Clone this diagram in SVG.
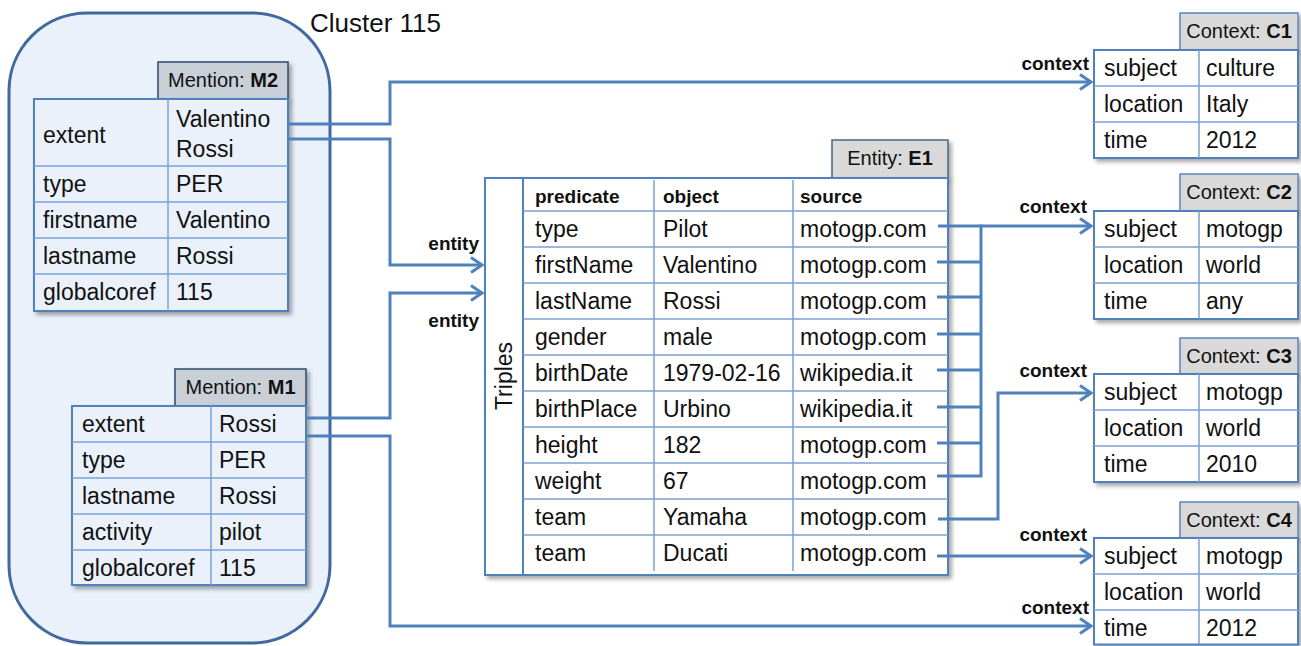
<svg xmlns="http://www.w3.org/2000/svg" width="1301" height="646" viewBox="0 0 1301 646">
<style>
text{font-family:"Liberation Sans",Arial,sans-serif;fill:#111}
.t{font-size:23px}
.h{font-size:20px}
.b{font-weight:bold}
.lbl{font-size:19px;font-weight:bold}
.cl{font-size:26px}
.tbl{stroke:#4F81BD;stroke-width:2}
.ln{stroke:#7BA3D6;stroke-width:1.5;fill:none}
.mfill{fill:#EAF1FA}
.wfill{fill:#FFFFFF}
.mtab{fill:#C9CFD7;stroke:#2F4B6E;stroke-width:1.5}
.etab{fill:#D9D9D9;stroke:#4A6585;stroke-width:1.5}
.ctab{fill:#D9D9D9;stroke:#5B87C0;stroke-width:1.5}
.con{fill:none;stroke:#4F81BD;stroke-width:3}
</style>
<defs>
<filter id="sh" x="-10%" y="-10%" width="130%" height="130%">
<feDropShadow dx="3" dy="3" stdDeviation="2" flood-color="#000" flood-opacity="0.35"/>
</filter>
<marker id="arr" markerUnits="userSpaceOnUse" markerWidth="18" markerHeight="20" refX="13" refY="10" orient="auto" viewBox="0 0 18 20">
<path d="M2,2.5 L13,10 L2,17.5" fill="none" stroke="#4F81BD" stroke-width="3"/>
</marker>
</defs>

<g id="cluster115">
<rect x="9" y="13" width="321" height="630" rx="78" ry="78" fill="#EAF1FA" stroke="#41699E" stroke-width="3"/>
<text class="cl" x="310" y="32">Cluster 115</text>
</g>

<g id="M2">
<rect class="mtab" x="158" y="62" width="130" height="37" filter="url(#sh)"/>
<text class="h" x="223" y="87" text-anchor="middle">Mention: <tspan class="b">M2</tspan></text>
<rect class="mfill tbl" x="34" y="99" width="254" height="212" filter="url(#sh)"/>
<path class="ln" d="M168,99V311M34,166H288M34,202H288M34,238H288M34,274H288"/>
<text class="t" x="43" y="143">extent</text>
<text class="t" x="176" y="127">Valentino</text>
<text class="t" x="176" y="157">Rossi</text>
<text class="t" x="43" y="192">type</text><text class="t" x="176" y="192">PER</text>
<text class="t" x="43" y="228">firstname</text><text class="t" x="176" y="228">Valentino</text>
<text class="t" x="43" y="264">lastname</text><text class="t" x="176" y="264">Rossi</text>
<text class="t" x="43" y="300">globalcoref</text><text class="t" x="176" y="300">115</text>
</g>

<g id="M1">
<rect class="mtab" x="175" y="369" width="131" height="37" filter="url(#sh)"/>
<text class="h" x="240.5" y="394" text-anchor="middle">Mention: <tspan class="b">M1</tspan></text>
<rect class="mfill tbl" x="72" y="406" width="234" height="179" filter="url(#sh)"/>
<path class="ln" d="M211,406V585M72,442H306M72,478H306M72,514H306M72,550H306"/>
<text class="t" x="82" y="432">extent</text><text class="t" x="219" y="432">Rossi</text>
<text class="t" x="82" y="468">type</text><text class="t" x="219" y="468">PER</text>
<text class="t" x="82" y="504">lastname</text><text class="t" x="219" y="504">Rossi</text>
<text class="t" x="82" y="540">activity</text><text class="t" x="219" y="540">pilot</text>
<text class="t" x="82" y="576">globalcoref</text><text class="t" x="219" y="576">115</text>
</g>

<g id="E1">
<rect class="etab" x="832" y="140" width="116" height="38" filter="url(#sh)"/>
<text class="h" x="890" y="165" text-anchor="middle">Entity: <tspan class="b">E1</tspan></text>
<rect class="wfill tbl" x="485" y="178" width="463" height="397" filter="url(#sh)"/>
<path class="tbl" fill="none" d="M523,178V575"/>
<path class="ln" d="M654,180V571M793,180V571M523,211H948M523,247H948M523,283H948M523,319H948M523,355H948M523,391H948M523,427H948M523,463H948M523,499H948M523,535H948"/>
<text class="t" transform="translate(512,376) rotate(-90)" text-anchor="middle">Triples</text>
<text class="lbl" x="535" y="203">predicate</text>
<text class="lbl" x="663" y="203">object</text>
<text class="lbl" x="800" y="203">source</text>
<text class="t" x="535" y="237">type</text><text class="t" x="663" y="237">Pilot</text><text class="t" x="800" y="237">motogp.com</text>
<text class="t" x="535" y="273">firstName</text><text class="t" x="663" y="273">Valentino</text><text class="t" x="800" y="273">motogp.com</text>
<text class="t" x="535" y="309">lastName</text><text class="t" x="663" y="309">Rossi</text><text class="t" x="800" y="309">motogp.com</text>
<text class="t" x="535" y="345">gender</text><text class="t" x="663" y="345">male</text><text class="t" x="800" y="345">motogp.com</text>
<text class="t" x="535" y="381">birthDate</text><text class="t" x="663" y="381">1979-02-16</text><text class="t" x="800" y="381">wikipedia.it</text>
<text class="t" x="535" y="417">birthPlace</text><text class="t" x="663" y="417">Urbino</text><text class="t" x="800" y="417">wikipedia.it</text>
<text class="t" x="535" y="453">height</text><text class="t" x="663" y="453">182</text><text class="t" x="800" y="453">motogp.com</text>
<text class="t" x="535" y="489">weight</text><text class="t" x="663" y="489">67</text><text class="t" x="800" y="489">motogp.com</text>
<text class="t" x="535" y="525">team</text><text class="t" x="663" y="525">Yamaha</text><text class="t" x="800" y="525">motogp.com</text>
<text class="t" x="535" y="561">team</text><text class="t" x="663" y="561">Ducati</text><text class="t" x="800" y="561">motogp.com</text>
</g>

<g id="C1">
<rect class="ctab" x="1180" y="13" width="118" height="37" filter="url(#sh)"/>
<text class="h" x="1239" y="38" text-anchor="middle">Context: <tspan class="b">C1</tspan></text>
<rect class="wfill tbl" x="1094" y="50" width="204" height="108" filter="url(#sh)"/>
<path class="ln" d="M1199,50V158M1094,86H1298M1094,122H1298"/>
<text class="t" x="1104" y="76">subject</text><text class="t" x="1206" y="76">culture</text>
<text class="t" x="1104" y="112">location</text><text class="t" x="1206" y="112">Italy</text>
<text class="t" x="1104" y="148">time</text><text class="t" x="1206" y="148">2012</text>
</g>

<g id="C2">
<rect class="ctab" x="1180" y="174" width="118" height="37" filter="url(#sh)"/>
<text class="h" x="1239" y="199" text-anchor="middle">Context: <tspan class="b">C2</tspan></text>
<rect class="wfill tbl" x="1094" y="211" width="204" height="108" filter="url(#sh)"/>
<path class="ln" d="M1199,211V319M1094,247H1298M1094,283H1298"/>
<text class="t" x="1104" y="237">subject</text><text class="t" x="1206" y="237">motogp</text>
<text class="t" x="1104" y="273">location</text><text class="t" x="1206" y="273">world</text>
<text class="t" x="1104" y="309">time</text><text class="t" x="1206" y="309">any</text>
</g>

<g id="C3">
<rect class="ctab" x="1180" y="338" width="118" height="36" filter="url(#sh)"/>
<text class="h" x="1239" y="363" text-anchor="middle">Context: <tspan class="b">C3</tspan></text>
<rect class="wfill tbl" x="1094" y="374" width="204" height="108" filter="url(#sh)"/>
<path class="ln" d="M1199,374V482M1094,410H1298M1094,446H1298"/>
<text class="t" x="1104" y="400">subject</text><text class="t" x="1206" y="400">motogp</text>
<text class="t" x="1104" y="436">location</text><text class="t" x="1206" y="436">world</text>
<text class="t" x="1104" y="472">time</text><text class="t" x="1206" y="472">2010</text>
</g>

<g id="C4">
<rect class="ctab" x="1180" y="502" width="118" height="36" filter="url(#sh)"/>
<text class="h" x="1239" y="527" text-anchor="middle">Context: <tspan class="b">C4</tspan></text>
<rect class="wfill tbl" x="1094" y="538" width="204" height="106.5" filter="url(#sh)"/>
<path class="ln" d="M1199,538V644M1094,574H1298M1094,610H1298"/>
<text class="t" x="1104" y="564">subject</text><text class="t" x="1206" y="564">motogp</text>
<text class="t" x="1104" y="600">location</text><text class="t" x="1206" y="600">world</text>
<text class="t" x="1104" y="636">time</text><text class="t" x="1206" y="636">2012</text>
</g>

<g id="connectors">
<path class="con" d="M288,124H390V82H1091" marker-end="url(#arr)"/>
<path class="con" d="M288,139H390V265H482" marker-end="url(#arr)"/>
<path class="con" d="M306,418H390V293H482" marker-end="url(#arr)"/>
<path class="con" d="M306,436H390V626H1091" marker-end="url(#arr)"/>
<path class="con" d="M938,226H1091" marker-end="url(#arr)"/>
<path class="con" d="M937,262H981M937,297H981M937,334H981M937,370H981M937,407H981M937,443H981M937,476H981M981,224.5V477.5"/>
<path class="con" d="M938,519H998V393H1091" marker-end="url(#arr)"/>
<path class="con" d="M937,556H1091" marker-end="url(#arr)"/>
<text class="lbl" x="479" y="250" text-anchor="end">entity</text>
<text class="lbl" x="479" y="327" text-anchor="end">entity</text>
<text class="lbl" x="1089" y="70" text-anchor="end">context</text>
<text class="lbl" x="1087" y="213" text-anchor="end">context</text>
<text class="lbl" x="1087" y="377" text-anchor="end">context</text>
<text class="lbl" x="1087" y="541" text-anchor="end">context</text>
<text class="lbl" x="1089" y="614" text-anchor="end">context</text>
</g>
</svg>
